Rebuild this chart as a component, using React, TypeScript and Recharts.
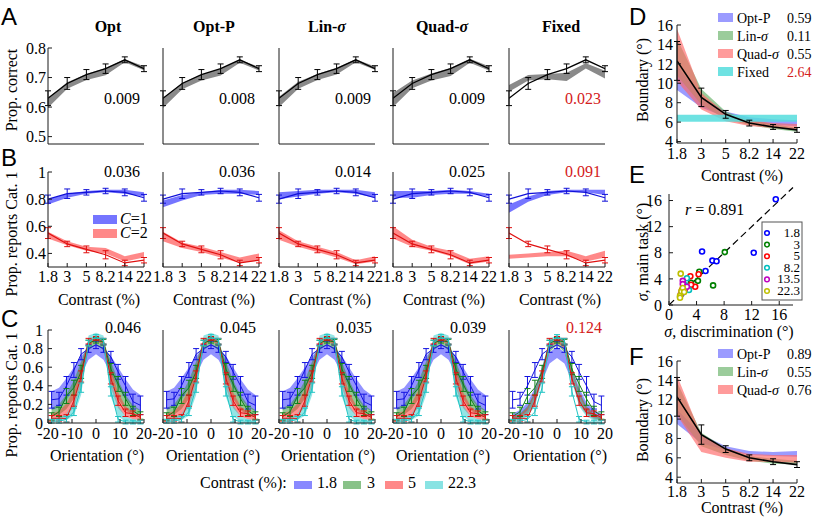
import type { ReactNode } from "react";
import { Area, ComposedChart, ErrorBar, Line, ReferenceLine, Scatter, XAxis, YAxis } from "recharts";

const serif = "'Liberation Serif', 'Times New Roman', serif";
const sans = "'Liberation Sans', Arial, sans-serif";

// shared categories
const contrasts = [1.8, 3, 5, 8.2, 13.5, 22.3];
const contrastLabels = ["1.8", "3", "5", "8.2", "14", "22"];
const models = ["Opt", "Opt-P", "Lin-σ", "Quad-σ", "Fixed"];

// A: proportion correct
const propCorrect = [0.63, 0.68, 0.71, 0.73, 0.76, 0.73];
const propCorrectErr = [0.025, 0.02, 0.017, 0.016, 0.01, 0.01];
const bandLoA = [
  [0.598, 0.662, 0.692, 0.708, 0.752, 0.725],
  [0.597, 0.66, 0.69, 0.707, 0.75, 0.724],
  [0.6, 0.662, 0.692, 0.71, 0.752, 0.726],
  [0.6, 0.664, 0.69, 0.705, 0.75, 0.724],
  [0.652, 0.69, 0.694, 0.688, 0.731, 0.697],
];
const bandHiA = [
  [0.632, 0.684, 0.712, 0.732, 0.762, 0.738],
  [0.63, 0.682, 0.71, 0.73, 0.76, 0.736],
  [0.635, 0.686, 0.712, 0.733, 0.762, 0.737],
  [0.648, 0.69, 0.714, 0.732, 0.764, 0.738],
  [0.675, 0.709, 0.712, 0.716, 0.748, 0.723],
];
const fitA = ["0.009", "0.008", "0.009", "0.009", "0.023"];

// B: prop. reports cat. 1 by true category
const reportC1 = [0.8, 0.84, 0.85, 0.86, 0.85, 0.81];
const reportC1Err = [0.03, 0.035, 0.02, 0.02, 0.025, 0.025];
const reportC2 = [0.55, 0.47, 0.43, 0.39, 0.33, 0.35];
const reportC2Err = [0.04, 0.02, 0.025, 0.03, 0.02, 0.02];
const bandC1Lo = [
  [0.76, 0.81, 0.84, 0.85, 0.84, 0.82],
  [0.74, 0.79, 0.83, 0.84, 0.84, 0.83],
  [0.8, 0.82, 0.84, 0.85, 0.84, 0.81],
  [0.81, 0.81, 0.83, 0.84, 0.84, 0.82],
  [0.7, 0.78, 0.83, 0.85, 0.85, 0.83],
];
const bandC1Hi = [
  [0.8, 0.84, 0.86, 0.87, 0.87, 0.85],
  [0.79, 0.83, 0.85, 0.87, 0.87, 0.86],
  [0.85, 0.86, 0.87, 0.87, 0.87, 0.85],
  [0.86, 0.86, 0.86, 0.87, 0.86, 0.84],
  [0.76, 0.82, 0.86, 0.87, 0.87, 0.87],
];
const bandC2Lo = [
  [0.51, 0.46, 0.42, 0.4, 0.34, 0.37],
  [0.49, 0.44, 0.41, 0.37, 0.33, 0.35],
  [0.5, 0.45, 0.41, 0.37, 0.32, 0.34],
  [0.51, 0.45, 0.42, 0.38, 0.32, 0.34],
  [0.36, 0.37, 0.38, 0.38, 0.34, 0.37],
];
const bandC2Hi = [
  [0.56, 0.49, 0.45, 0.44, 0.38, 0.41],
  [0.56, 0.48, 0.45, 0.41, 0.37, 0.4],
  [0.57, 0.49, 0.45, 0.41, 0.35, 0.38],
  [0.6, 0.5, 0.45, 0.42, 0.36, 0.38],
  [0.39, 0.4, 0.41, 0.42, 0.38, 0.42],
];
const fitB = ["0.036", "0.036", "0.014", "0.025", "0.091"];

// C: psychometric curves for four contrast levels
const orientations = [-18.5, -15.4, -12.3, -9.2, -6.2, -3.1, 0, 3.1, 6.2, 9.2, 12.3, 15.4, 18.5];
const levelsC = ["1.8", "3", "5", "22.3"];
const curveC = [
  [0.25, 0.26, 0.4, 0.57, 0.74, 0.8, 0.84, 0.8, 0.71, 0.55, 0.4, 0.23, 0.19],
  [0.07, 0.12, 0.29, 0.38, 0.55, 0.86, 0.89, 0.87, 0.58, 0.42, 0.26, 0.13, 0.08],
  [0.05, 0.05, 0.05, 0.24, 0.5, 0.88, 0.91, 0.88, 0.48, 0.24, 0.11, 0.1, 0.06],
  [0.02, 0.02, 0.04, 0.12, 0.38, 0.86, 0.93, 0.88, 0.34, 0.04, 0.01, 0.01, 0.01],
];
const curveErrC = [
  [0.09, 0.07, 0.1, 0.08, 0.06, 0.04, 0.04, 0.04, 0.06, 0.08, 0.1, 0.08, 0.1],
  [0.04, 0.05, 0.08, 0.08, 0.07, 0.03, 0.03, 0.03, 0.06, 0.08, 0.07, 0.05, 0.04],
  [0.03, 0.03, 0.04, 0.06, 0.06, 0.03, 0.02, 0.03, 0.06, 0.05, 0.04, 0.03, 0.03],
  [0.02, 0.02, 0.03, 0.04, 0.05, 0.03, 0.02, 0.03, 0.05, 0.03, 0.02, 0.02, 0.02],
];
const varBandLo = [
  [0.14, 0.17, 0.25, 0.37, 0.52, 0.68, 0.74, 0.68, 0.53, 0.38, 0.26, 0.17, 0.13],
  [0.07, 0.09, 0.15, 0.26, 0.46, 0.78, 0.85, 0.78, 0.46, 0.26, 0.14, 0.08, 0.06],
  [0.03, 0.04, 0.08, 0.17, 0.4, 0.83, 0.89, 0.83, 0.38, 0.16, 0.07, 0.04, 0.03],
  [0.01, 0.02, 0.03, 0.08, 0.3, 0.86, 0.92, 0.86, 0.28, 0.07, 0.02, 0.01, 0.01],
];
const varBandHi = [
  [0.34, 0.38, 0.48, 0.6, 0.72, 0.81, 0.85, 0.81, 0.72, 0.6, 0.47, 0.36, 0.3],
  [0.16, 0.2, 0.31, 0.46, 0.66, 0.88, 0.92, 0.88, 0.66, 0.46, 0.3, 0.19, 0.14],
  [0.1, 0.13, 0.21, 0.36, 0.6, 0.9, 0.94, 0.9, 0.58, 0.33, 0.18, 0.11, 0.08],
  [0.05, 0.06, 0.1, 0.22, 0.52, 0.94, 0.97, 0.94, 0.5, 0.19, 0.07, 0.04, 0.03],
];
const fixBandLo = [
  [0.04, 0.06, 0.12, 0.24, 0.45, 0.64, 0.7, 0.64, 0.45, 0.24, 0.12, 0.06, 0.04],
  [0.03, 0.05, 0.1, 0.22, 0.48, 0.76, 0.84, 0.76, 0.48, 0.22, 0.1, 0.05, 0.03],
  [0.03, 0.04, 0.09, 0.2, 0.47, 0.8, 0.87, 0.8, 0.47, 0.2, 0.09, 0.04, 0.03],
  [0.02, 0.03, 0.07, 0.18, 0.45, 0.83, 0.9, 0.83, 0.45, 0.18, 0.07, 0.03, 0.02],
];
const fixBandHi = [
  [0.1, 0.14, 0.22, 0.38, 0.6, 0.76, 0.82, 0.76, 0.6, 0.38, 0.22, 0.14, 0.1],
  [0.07, 0.1, 0.18, 0.34, 0.6, 0.86, 0.9, 0.86, 0.6, 0.34, 0.18, 0.1, 0.07],
  [0.06, 0.09, 0.16, 0.32, 0.6, 0.88, 0.92, 0.88, 0.6, 0.32, 0.16, 0.09, 0.06],
  [0.05, 0.07, 0.14, 0.3, 0.6, 0.9, 0.95, 0.9, 0.6, 0.3, 0.14, 0.07, 0.05],
];
const fitC = ["0.046", "0.045", "0.035", "0.039", "0.124"];

// D: decision boundary, all models
const boundaryD = [12.3, 8.55, 6.8, 5.9, 5.5, 5.2];
const boundaryErrD = [2.0, 0.95, 0.4, 0.3, 0.25, 0.25];
const modelsD = ["Opt-P", "Lin-σ", "Quad-σ", "Fixed"];
const scoresD = ["0.59", "0.11", "0.55", "2.64"];
const bandLoD = [
  [9.3, 7.5, 6.5, 6.0, 5.7, 5.6],
  [10.8, 7.8, 6.3, 5.7, 5.3, 5.0],
  [10.2, 7.3, 6.1, 5.6, 5.4, 5.2],
  [6.05, 6.05, 6.05, 6.05, 6.05, 6.05],
];
const bandHiD = [
  [11.8, 8.6, 7.1, 6.5, 6.3, 6.2],
  [14.6, 9.4, 7.1, 6.2, 5.8, 5.4],
  [15.6, 9.0, 6.9, 6.2, 5.9, 5.8],
  [6.77, 6.77, 6.77, 6.77, 6.77, 6.77],
];

// E: sigma main task vs discrimination
const levelsE = ["1.8", "3", "5", "8.2", "13.5", "22.3"];
const discE = [
  [15.5, 12.3, 4.8, 6.3, 6.9, 5.3],
  [8.1, 6.4, 4.4, 4.2, 3.2, 2.3],
  [4.3, 3.1, 3.8, 3.2, 2.4, 1.9],
  [2.6, 2.5, 2.9, 2.1, 1.8, 2.4],
  [2.0, 2.0, 2.3, 1.8, 2.6, 1.7],
  [1.7, 1.6, 1.8, 2.0, 2.2, 1.6],
];
const mainE = [
  [16.2, 8.0, 8.2, 6.8, 6.7, 5.2],
  [8.1, 3.0, 5.1, 3.7, 3.4, 2.5],
  [4.7, 4.4, 2.8, 3.1, 2.7, 2.3],
  [4.1, 2.6, 2.3, 2.0, 1.7, 3.0],
  [3.7, 3.2, 2.4, 2.0, 2.8, 1.6],
  [4.8, 1.4, 2.1, 2.6, 2.0, 1.1],
];

// F: decision boundary, variable-precision models
const boundaryF = [12.3, 8.4, 6.9, 6.0, 5.6, 5.3];
const boundaryErrF = [2.0, 1.0, 0.35, 0.3, 0.3, 0.3];
const modelsF = ["Opt-P", "Lin-σ", "Quad-σ"];
const scoresF = ["0.89", "0.55", "0.76"];
const bandLoF = [
  [9.5, 7.5, 6.8, 6.3, 6.2, 6.1],
  [10.5, 7.2, 6.3, 5.7, 5.4, 5.3],
  [10.4, 6.6, 6.0, 5.6, 5.6, 5.5],
];
const bandHiF = [
  [11.0, 8.4, 7.2, 6.7, 6.6, 6.7],
  [13.8, 8.6, 7.0, 6.2, 5.9, 5.7],
  [14.5, 8.3, 7.0, 6.4, 6.3, 6.3],
];

const ink = "#1a1a1a";
const tickFont = { fill: "#000", fontSize: 16, fontFamily: serif };
const colX = [48, 163, 279, 393, 509];
const plotW = 96;
const lineCol = ["#1212e0", "#10801a", "#e01010", "#22c4c4"];
const bandCol = ["#3a3aff", "#3a9a3a", "#ff3a3a", "#3ad0d0"];
const dCol = ["#6666ff", "#66b066", "#ff6666", "#55dddd"];
const eCol = ["#0000ff", "#008000", "#ff0000", "#00bfbf", "#bf00bf", "#bfbf00"];
const red = "#d42020";

const css = `
.recharts-cartesian-axis-tick-value, .recharts-cartesian-axis-tick-value tspan {
  font-family: 'Liberation Serif', 'Times New Roman', serif !important;
  font-size: 16px !important;
  fill: #000 !important;
}
`;

type BoxProps = {
  left: number;
  top: number;
  w: number;
  h: number;
  padL?: number;
  padT?: number;
  padR?: number;
  padB?: number;
  data?: any[];
  children: ReactNode;
};

// place a chart so its plot area sits exactly at (left, top, w, h)
function Box({ left, top, w, h, padL = 46, padT = 12, padR = 10, padB = 30, data, children }: BoxProps) {
  return (
    <div style={{ position: "absolute", left: left - padL, top: top - padT }}>
      <ComposedChart width={w + padL + padR} height={h + padT + padB} data={data} margin={{ top: padT, right: padR, bottom: 0, left: 0 }}>
        {children}
      </ComposedChart>
    </div>
  );
}

function idxAxis(labels: boolean, height: number) {
  return (
    <XAxis type="number" dataKey="x" domain={[0, 5]} ticks={[0, 1, 2, 3, 4, 5]} interval={0} allowDataOverflow height={height}
      tickFormatter={(v: number) => contrastLabels[v]} tick={labels ? tickFont : false} tickSize={-4} tickMargin={8} stroke={ink} />
  );
}

function band(key: string, fill: string, opacity: number) {
  return <Area key={key} type="linear" dataKey={key} stroke="none" fill={fill} fillOpacity={opacity} dot={false} activeDot={false} isAnimationActive={false} />;
}

function trace(key: string, errKey: string, color: string, width: number) {
  return (
    <Line key={key} type="linear" dataKey={key} stroke={color} strokeWidth={width} dot={false} activeDot={false} isAnimationActive={false}>
      <ErrorBar dataKey={errKey} width={3} stroke={color} strokeWidth={1} direction="y" isAnimationActive={false} />
    </Line>
  );
}

function Sig({ label }: { label: string }) {
  const parts = label.split("σ");
  return (
    <>
      {parts[0]}
      {parts.length > 1 && <tspan fontStyle="italic">σ</tspan>}
      {parts.length > 1 ? parts[1] : ""}
    </>
  );
}

function RowA() {
  return (
    <>
      {models.map((m, k) => {
        const data = contrasts.map((_, i) => ({ x: i, y: propCorrect[i], e: propCorrectErr[i], band: [bandLoA[k][i], bandHiA[k][i]] }));
        return (
          <Box key={m} left={colX[k]} top={48} w={plotW} h={96} padB={4} data={data}>
            {idxAxis(false, 4)}
            <YAxis type="number" domain={[0.475, 0.8]} ticks={[0.5, 0.6, 0.7, 0.8]} interval={0} allowDataOverflow width={46}
              tick={k === 0 ? tickFont : false} tickSize={-4} tickMargin={6} stroke={ink} />
            {band("band", "#8a8a8a", 1)}
            {trace("y", "e", "#000", 1.3)}
          </Box>
        );
      })}
    </>
  );
}

function RowB() {
  return (
    <>
      {models.map((m, k) => {
        const data = contrasts.map((_, i) => ({
          x: i,
          c1: reportC1[i], e1: reportC1Err[i], b1: [bandC1Lo[k][i], bandC1Hi[k][i]],
          c2: reportC2[i], e2: reportC2Err[i], b2: [bandC2Lo[k][i], bandC2Hi[k][i]],
        }));
        return (
          <Box key={m} left={colX[k]} top={172} w={plotW} h={95} padB={30} data={data}>
            {idxAxis(true, 30)}
            <YAxis type="number" domain={[0.3, 1]} ticks={[0.4, 0.6, 0.8, 1]} interval={0} allowDataOverflow width={46}
              tick={k === 0 ? tickFont : false} tickSize={-4} tickMargin={6} stroke={ink} />
            {band("b1", "#3a3aff", 0.7)}
            {band("b2", "#ff3a3a", 0.6)}
            {trace("c1", "e1", "#1010d8", 1.2)}
            {trace("c2", "e2", "#e01010", 1.2)}
          </Box>
        );
      })}
    </>
  );
}

function RowC() {
  return (
    <>
      {models.map((m, k) => {
        const lo = k === 4 ? fixBandLo : varBandLo;
        const hi = k === 4 ? fixBandHi : varBandHi;
        const data = orientations.map((o, i) => {
          const row: Record<string, any> = { x: o };
          levelsC.forEach((_, j) => {
            row["y" + j] = curveC[j][i];
            row["e" + j] = curveErrC[j][i];
            row["b" + j] = [lo[j][i], hi[j][i]];
          });
          return row;
        });
        return (
          <Box key={m} left={colX[k]} top={330} w={plotW} h={93} padB={30} data={data}>
            <XAxis type="number" dataKey="x" domain={[-20, 20]} ticks={[-20, -10, 0, 10, 20]} interval={0} allowDataOverflow height={30}
              tick={tickFont} tickSize={-4} tickMargin={9} stroke={ink} />
            <YAxis type="number" domain={[0, 1]} ticks={[0, 0.2, 0.4, 0.6, 0.8, 1]} interval={0} allowDataOverflow width={46}
              tick={k === 0 ? tickFont : false} tickSize={-4} tickMargin={9} stroke={ink} />
            {levelsC.map((_, j) => band("b" + j, bandCol[j], 0.55))}
            {levelsC.map((_, j) => trace("y" + j, "e" + j, lineCol[j], 1))}
          </Box>
        );
      })}
    </>
  );
}

function BoundaryPanel({ top, h, yMin, bandsLo, bandsHi, values, errs, tm }: {
  top: number; h: number; yMin: number; bandsLo: number[][]; bandsHi: number[][]; values: number[]; errs: number[]; tm: number;
}) {
  const data = contrasts.map((c, i) => {
    const row: Record<string, any> = { x: c, y: values[i], e: errs[i] };
    bandsLo.forEach((lo, j) => (row["b" + j] = [lo[i], bandsHi[j][i]]));
    return row;
  });
  return (
    <Box left={677} top={top} w={120} h={h} padL={40} padR={16} padB={30} data={data}>
      <XAxis type="number" dataKey="x" scale="log" domain={[1.8, 22.3]} ticks={contrasts} interval={0} allowDataOverflow height={30}
        tickFormatter={(v: number) => contrastLabels[contrasts.indexOf(v)]} tick={tickFont} tickSize={-4} tickMargin={tm} stroke={ink} />
      <YAxis type="number" domain={[yMin, 16]} ticks={[4, 6, 8, 10, 12, 14, 16]} interval={0} allowDataOverflow width={40}
        tick={tickFont} tickSize={-4} tickMargin={8} stroke={ink} />
      {bandsLo.map((_, j) => band("b" + j, dCol[j], j === 3 ? 0.85 : 0.65))}
      {trace("y", "e", "#000", 1.6)}
    </Box>
  );
}

function PanelE() {
  return (
    <Box left={669} top={194} w={124} h={111} padL={40} padR={16} padB={30}>
      <XAxis type="number" dataKey="x" domain={[0, 18]} ticks={[0, 4, 8, 12, 16]} interval={0} allowDataOverflow height={30}
        tick={tickFont} tickSize={-4} tickMargin={8} stroke={ink} />
      <YAxis type="number" dataKey="y" domain={[0, 17]} ticks={[0, 4, 8, 12, 16]} interval={0} allowDataOverflow width={40}
        tick={tickFont} tickSize={-4} tickMargin={11} stroke={ink} />
      <ReferenceLine segment={[{ x: 0, y: 0 }, { x: 18, y: 18 }]} stroke="#000" strokeWidth={1.2} strokeDasharray="7 4" ifOverflow="visible" />
      {levelsE.map((lvl, k) => (
        <Scatter
          key={lvl}
          data={discE[k].map((d, i) => ({ x: d, y: mainE[k][i] }))}
          isAnimationActive={false}
          shape={(p: any) => <circle cx={p.cx} cy={p.cy} r={2.5} fill="#fff" stroke={eCol[k]} strokeWidth={1.6} />}
        />
      ))}
    </Box>
  );
}

function rotLabel(text: ReactNode, x: number, y: number) {
  return (
    <text transform={`translate(${x},${y}) rotate(-90)`} textAnchor="middle">
      {text}
    </text>
  );
}

function Overlay() {
  const titleX = [108, 214, 327, 442, 561];
  const contrastX = [99, 214, 330, 444, 560];
  const orientX = [97, 213, 328, 443, 560];
  const legendSwatchX = [294, 343, 385, 425];
  const legendTextX = [317, 367, 408, 448];
  const dRows = [23, 41, 59, 77];
  const fRows = [359, 377, 395];
  return (
    <svg width={814} height={517} style={{ position: "absolute", left: 0, top: 0, pointerEvents: "none", fontFamily: serif }} fontSize={16} fill="#000">
      {[["A", 1, 25], ["B", 1, 166], ["C", 1, 327], ["D", 629, 25], ["E", 629, 183], ["F", 629, 365]].map(([t, x, y]) => (
        <text key={t as string} x={x as number} y={y as number} style={{ fontFamily: sans }} fontSize={24}>{t}</text>
      ))}
      {models.map((m, k) => (
        <text key={m} x={titleX[k]} y={32} textAnchor="middle" fontWeight="bold"><Sig label={m} /></text>
      ))}
      {fitA.map((v, k) => <text key={"a" + k} x={colX[k] + 92} y={104} textAnchor="end" fill={k === 4 ? red : "#000"}>{v}</text>)}
      {fitB.map((v, k) => <text key={"b" + k} x={colX[k] + 92} y={177} textAnchor="end" fill={k === 4 ? red : "#000"}>{v}</text>)}
      {fitC.map((v, k) => <text key={"c" + k} x={colX[k] + 93} y={333} textAnchor="end" fill={k === 4 ? red : "#000"}>{v}</text>)}
      {rotLabel("Prop. correct", 17, 90)}
      {rotLabel("Prop. reports Cat. 1", 17, 234)}
      {rotLabel("Prop. reports Cat. 1", 17, 395)}
      {contrastX.map((x, k) => <text key={"cx" + k} x={x} y={305} textAnchor="middle">Contrast (%)</text>)}
      {orientX.map((x, k) => <text key={"ox" + k} x={x} y={461} textAnchor="middle">Orientation (°)</text>)}

      {/* B legend */}
      <rect x={93} y={215} width={24} height={9} fill="#3a3aff" fillOpacity={0.7} />
      <rect x={93} y={229} width={24} height={9} fill="#ff3a3a" fillOpacity={0.6} />
      <text x={120} y={224}><tspan fontStyle="italic">C</tspan>=1</text>
      <text x={120} y={238}><tspan fontStyle="italic">C</tspan>=2</text>

      {/* C legend */}
      <text x={200} y={488}>Contrast (%):</text>
      {levelsC.map((l, j) => (
        <g key={"lc" + l}>
          <rect x={legendSwatchX[j]} y={481} width={18} height={8} fill={bandCol[j]} fillOpacity={0.6} />
          <text x={legendTextX[j]} y={488}>{l}</text>
        </g>
      ))}

      {/* D */}
      {rotLabel("Boundary (°)", 648, 80)}
      <text x={742} y={181} textAnchor="middle">Contrast (%)</text>
      {modelsD.map((m, j) => (
        <g key={"d" + m} fontSize={14}>
          <rect x={718} y={dRows[j] - 10} width={15} height={9} fill={dCol[j]} fillOpacity={j === 3 ? 0.85 : 0.65} />
          <text x={737} y={dRows[j]}><Sig label={m} /></text>
          <text x={787} y={dRows[j]} fill={j === 3 ? red : "#000"}>{scoresD[j]}</text>
        </g>
      ))}

      {/* E */}
      <text x={685} y={215}><tspan fontStyle="italic">r</tspan> = 0.891</text>
      {rotLabel(<><tspan fontStyle="italic">σ</tspan>, main task (°)</>, 648, 252)}
      <text x={729} y={337} textAnchor="middle"><tspan fontStyle="italic">σ</tspan>, discrimination (°)</text>
      <rect x={762} y={222} width={40} height={78} fill="#fff" stroke="#555" strokeWidth={1} />
      {levelsE.map((l, k) => (
        <g key={"e" + l}>
          <circle cx={767} cy={233 + k * 11.6} r={2.3} fill="#fff" stroke={eCol[k]} strokeWidth={1.5} />
          <text x={800} y={237 + k * 11.6} textAnchor="end" fontSize={13}>{l}</text>
        </g>
      ))}

      {/* F */}
      {rotLabel("Boundary (°)", 648, 420)}
      <text x={742} y={513} textAnchor="middle">Contrast (%)</text>
      {modelsF.map((m, j) => (
        <g key={"f" + m} fontSize={14}>
          <rect x={718} y={fRows[j] - 10} width={15} height={9} fill={dCol[j]} fillOpacity={0.65} />
          <text x={737} y={fRows[j]}><Sig label={m} /></text>
          <text x={787} y={fRows[j]}>{scoresF[j]}</text>
        </g>
      ))}
    </svg>
  );
}

export default function App() {
  return (
    <div style={{ position: "absolute", left: 0, top: 0, width: 814, height: 517, background: "#fff", fontFamily: serif }}>
      <style>{css}</style>
      <RowA />
      <RowB />
      <RowC />
      <BoundaryPanel top={25} h={118} yMin={3.85} bandsLo={bandLoD} bandsHi={bandHiD} values={boundaryD} errs={boundaryErrD} tm={9} />
      <PanelE />
      <BoundaryPanel top={361} h={122} yMin={3.4} bandsLo={bandLoF} bandsHi={bandHiF} values={boundaryF} errs={boundaryErrF} tm={7} />
      <Overlay />
    </div>
  );
}
